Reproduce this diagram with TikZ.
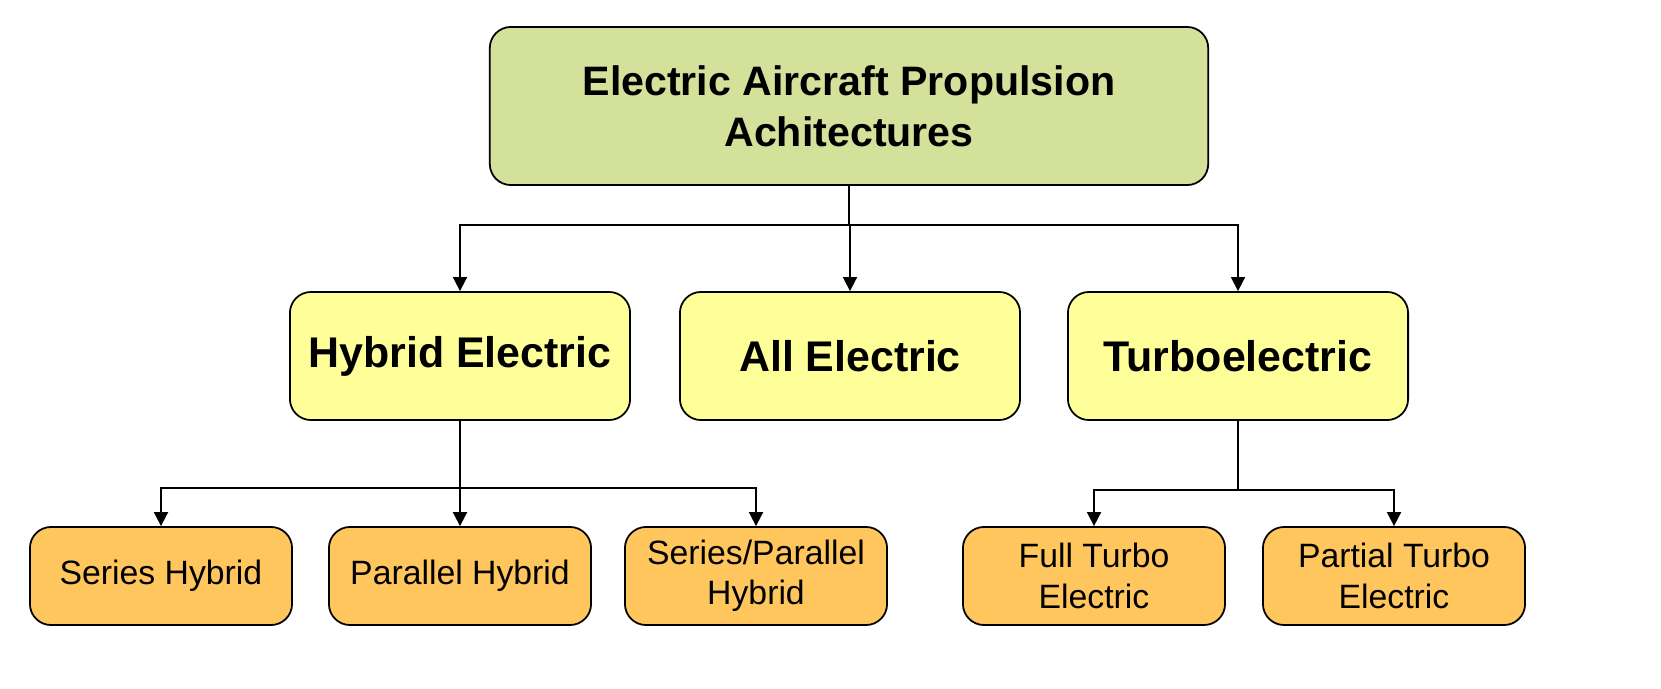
\documentclass[tikz,border=0pt]{standalone}
\usepackage{fontspec}
\setmainfont{Liberation Sans}
\usetikzlibrary{arrows.meta}
\definecolor{topgreen}{HTML}{D4E19A}
\definecolor{midyellow}{HTML}{FFFF99}
\definecolor{loworange}{HTML}{FFC65E}
\begin{document}
\begin{tikzpicture}[x=0.01cm,y=-0.01cm]

	\tikzset{box/.style={draw,rounded corners=6pt,line width=0.5pt,align=center,inner sep=0pt},
		top/.style={box,fill=topgreen,minimum width=7.18cm,minimum height=1.58cm,font=\bfseries\fontsize{11.7}{14.5}\selectfont},
		mid/.style={box,fill=midyellow,minimum width=3.4cm,minimum height=1.28cm,font=\bfseries\fontsize{12.2}{14}\selectfont},
		low/.style={box,fill=loworange,minimum width=2.62cm,minimum height=0.98cm,font=\fontsize{9.6}{11.5}\selectfont},
		link/.style={line width=0.5pt,-{Triangle[length=4pt,width=4pt]}}}

	\useasboundingbox (0,0) rectangle (1661,688);

	% root
	\node[top] (root) at (849,106) {Electric Aircraft Propulsion\\Achitectures};

	% second level
	\node[mid] (hybrid) at (460,356) {Hybrid Electric};
	\node[mid] (allel) at (850,356) {All Electric};
	\node[mid] (turbo) at (1238,356) {Turboelectric};

	% third level
	\node[low] (series) at (161,576) {Series Hybrid};
	\node[low] (parallel) at (460,576) {Parallel Hybrid};
	\node[low] (serpar) at (756,576) {Series/Parallel\\Hybrid};
	\node[low] (full) at (1094,576) {Full Turbo\\Electric};
	\node[low] (partial) at (1394,576) {Partial Turbo\\Electric};

	% connectors
	\coordinate (j1) at (849,225);
	\coordinate (j2) at (460,488);
	\coordinate (j3) at (1238,490);

	\draw[line width=0.5pt] (root.south) -- (j1);
	\foreach \n in {hybrid,allel,turbo}
		\draw[link] (j1) -| (\n.north);
	\draw[line width=0.5pt] (hybrid.south) -- (j2);
	\foreach \n in {series,parallel,serpar}
		\draw[link] (j2) -| (\n.north);
	\draw[line width=0.5pt] (turbo.south) -- (j3);
	\foreach \n in {full,partial}
		\draw[link] (j3) -| (\n.north);

\end{tikzpicture}
\end{document}
